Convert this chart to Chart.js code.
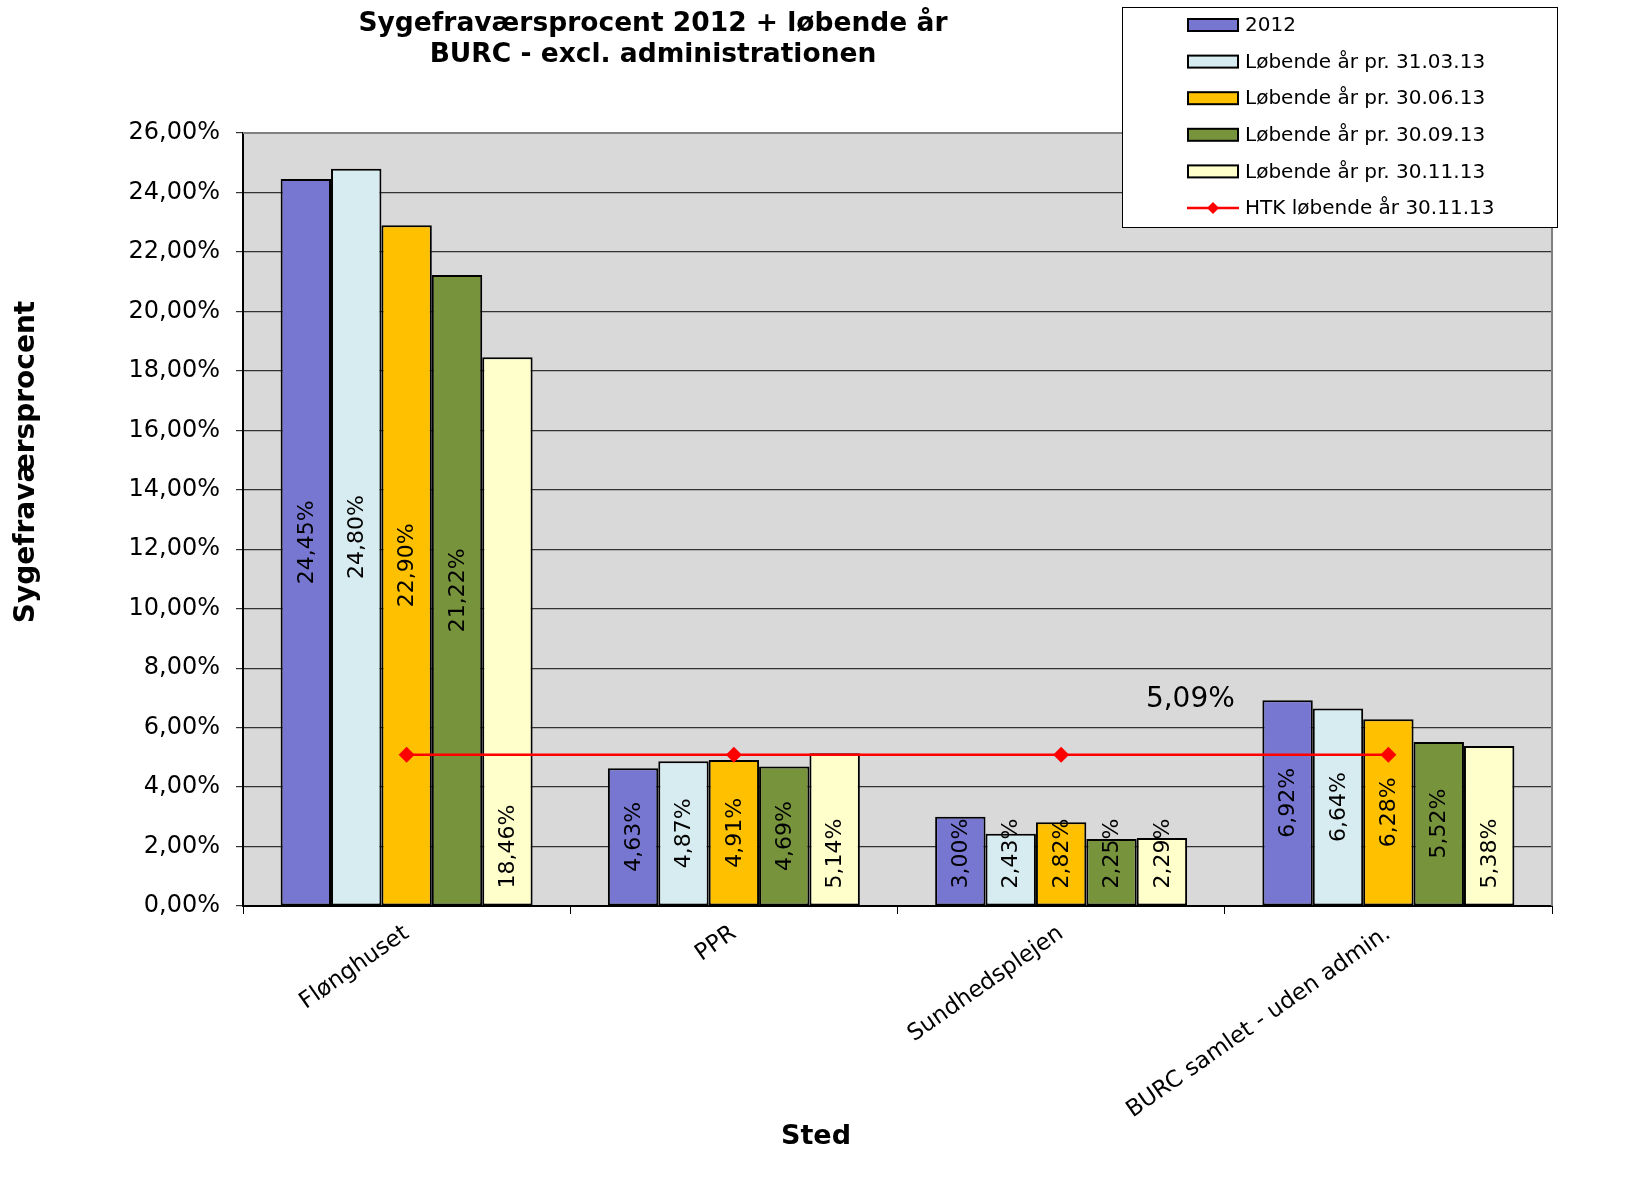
<!DOCTYPE html>
<html lang="da">
<head>
<meta charset="UTF-8">
<title>Sygefraværsprocent 2012 + løbende år</title>
<script src="https://cdn.jsdelivr.net/npm/chart.js"></script>
<style>
    body { margin: 0; background: #fff; }
    #wrap { width: 1631px; height: 1186px; position: relative; }
</style>
</head>
<body>
<div id="wrap"><canvas id="chart"></canvas></div>
<script>
// data (percent)
var steder = ["Flønghuset", "PPR", "Sundhedsplejen", "BURC samlet - uden admin."];
var aar2012 = [24.45, 4.63, 3.00, 6.92];
var pr310313 = [24.80, 4.87, 2.43, 6.64];
var pr300613 = [22.90, 4.91, 2.82, 6.28];
var pr300913 = [21.22, 4.69, 2.25, 5.52];
var pr301113 = [18.46, 5.14, 2.29, 5.38];
var htk = [5.09, 5.09, 5.09, 5.09];

var FONT = "'DejaVu Sans', Verdana, sans-serif";

function pct(v) {
    return v.toFixed(2).replace(".", ",") + "%";
}

function barSet(label, data, color) {
    return {
        type: "bar", label: label, data: data,
        backgroundColor: color, borderColor: "#000", borderWidth: 2,
        borderSkipped: false, order: 1
    };
}

// grey plot background + right border
var plotBg = {
    id: "plotBg",
    beforeDraw: function (chart) {
        var a = chart.chartArea, ctx = chart.ctx;
        ctx.save();
        ctx.fillStyle = "#d9d9d9";
        ctx.fillRect(a.left, a.top, a.right - a.left, a.bottom - a.top);
        ctx.restore();
    },
    afterDraw: function (chart) {
        var a = chart.chartArea, ctx = chart.ctx;
        ctx.save();
        ctx.strokeStyle = "#808080";
        ctx.lineWidth = 2;
        ctx.beginPath();
        ctx.moveTo(a.left, a.top);
        ctx.lineTo(a.right, a.top);
        ctx.lineTo(a.right, a.bottom);
        ctx.stroke();
        ctx.restore();
    }
};

// vertical value labels inside the bars + the 5,09% label
var valueLabels = {
    id: "valueLabels",
    afterDatasetsDraw: function (chart) {
        var ctx = chart.ctx;
        ctx.save();
        chart.data.datasets.forEach(function (ds, i) {
            var meta = chart.getDatasetMeta(i);
            if (ds.type === "bar") {
                ctx.font = "22px " + FONT;
                ctx.fillStyle = "#000";
                ctx.textAlign = "center";
                ctx.textBaseline = "middle";
                meta.data.forEach(function (el, j) {
                    var txt = pct(ds.data[j]);
                    var w = ctx.measureText(txt).width;
                    var low = el.base - 17 - w / 2;
                    var cy = ds.labelBase ? low : Math.min((el.y + el.base) / 2, low);
                    ctx.save();
                    ctx.translate(el.x, cy);
                    ctx.rotate(-Math.PI / 2);
                    ctx.fillText(txt, 0, 1);
                    ctx.restore();
                });
            } else {
                var last = meta.data[meta.data.length - 1];
                ctx.font = "28px " + FONT;
                ctx.fillStyle = "#000";
                ctx.textAlign = "center";
                ctx.textBaseline = "middle";
                ctx.fillText(pct(ds.data[ds.data.length - 1]), last.x - 198, last.y - 55);
            }
        });
        ctx.restore();
    }
};

// titles and boxed legend
var texts = {
    id: "texts",
    afterDraw: function (chart) {
        var ctx = chart.ctx;
        ctx.save();
        ctx.fillStyle = "#000";
        ctx.textAlign = "center";
        ctx.textBaseline = "middle";
        ctx.font = "bold 26.5px " + FONT;
        ctx.fillText("Sygefraværsprocent 2012 + løbende år", 653, 24);
        ctx.fillText("BURC - excl. administrationen", 653, 55);
        ctx.font = "bold 27px " + FONT;
        ctx.fillText("Sted", 816, 1137);
        ctx.save();
        ctx.translate(27, 462);
        ctx.rotate(-Math.PI / 2);
        ctx.font = "bold 28px " + FONT;
        ctx.fillText("Sygefraværsprocent", 0, 0);
        ctx.restore();

        // legend
        ctx.fillStyle = "#fff";
        ctx.fillRect(1122, 7, 435, 220);
        ctx.strokeStyle = "#000";
        ctx.lineWidth = 1;
        ctx.strokeRect(1122.5, 7.5, 435, 220);
        ctx.font = "20px " + FONT;
        ctx.textAlign = "left";
        chart.data.datasets.forEach(function (ds, i) {
            var cy = 25 + i * 36.6;
            if (ds.type === "bar") {
                ctx.fillStyle = ds.backgroundColor;
                ctx.fillRect(1188, cy - 6, 50, 12);
                ctx.strokeStyle = "#000";
                ctx.lineWidth = 2;
                ctx.strokeRect(1188, cy - 6, 50, 12);
            } else {
                ctx.strokeStyle = ds.borderColor;
                ctx.lineWidth = 2.5;
                ctx.beginPath();
                ctx.moveTo(1187, cy);
                ctx.lineTo(1239, cy);
                ctx.stroke();
                ctx.fillStyle = ds.borderColor;
                ctx.beginPath();
                ctx.moveTo(1213, cy - 6);
                ctx.lineTo(1219, cy);
                ctx.lineTo(1213, cy + 6);
                ctx.lineTo(1207, cy);
                ctx.closePath();
                ctx.fill();
            }
            ctx.fillStyle = "#000";
            ctx.fillText(ds.label, 1245, cy + 1);
        });
        ctx.restore();
    }
};

new Chart(document.getElementById("chart"), {
    type: "bar",
    data: {
        labels: steder,
        datasets: [
            barSet("2012", aar2012, "#7777d2"),
            barSet("Løbende år pr. 31.03.13", pr310313, "#d7ecf0"),
            barSet("Løbende år pr. 30.06.13", pr300613, "#ffc000"),
            barSet("Løbende år pr. 30.09.13", pr300913, "#77933c"),
            Object.assign(barSet("Løbende år pr. 30.11.13", pr301113, "#ffffcc"), { labelBase: true }),
            {
                type: "line", label: "HTK løbende år 30.11.13", data: htk,
                borderColor: "#ff0000", backgroundColor: "#ff0000", borderWidth: 2.5,
                pointStyle: "rectRot", pointRadius: 8, pointBorderWidth: 0,
                order: 0
            }
        ]
    },
    options: {
        responsive: true,
        maintainAspectRatio: false,
        animation: false,
        datasets: { bar: { categoryPercentage: 0.77, barPercentage: 1.0 } },
        layout: { padding: { left: 0, top: 133, right: 79, bottom: 0 } },
        plugins: { legend: { display: false }, tooltip: { enabled: false } },
        scales: {
            x: {
                afterFit: function (s) { s.height = 280; },
                grid: { offset: true, drawOnChartArea: false, tickLength: 8, color: "#000" },
                border: { color: "#000", width: 2 },
                ticks: {
                    minRotation: 35, maxRotation: 35, padding: 6,
                    color: "#000", font: { family: FONT, size: 23 }
                }
            },
            y: {
                min: 0, max: 26,
                afterFit: function (s) { s.width = 243; },
                grid: { color: "#333", lineWidth: 1.2, tickLength: 7 },
                border: { color: "#000", width: 2 },
                ticks: {
                    stepSize: 2, padding: 16, color: "#000",
                    font: { family: FONT, size: 24 },
                    callback: function (v) { return pct(v); }
                }
            }
        }
    },
    plugins: [plotBg, valueLabels, texts]
});
</script>
</body>
</html>
